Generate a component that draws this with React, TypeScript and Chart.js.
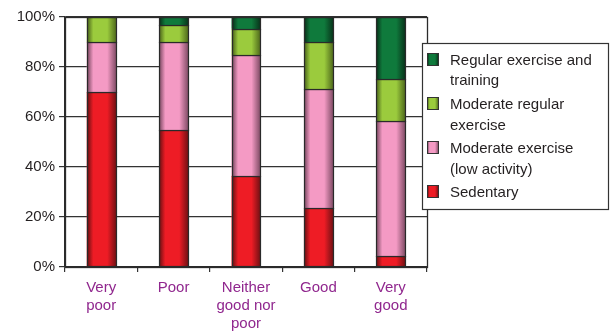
import React, { useEffect, useRef } from "react";
import { Chart, registerables } from "chart.js";

Chart.register(...registerables);

const categories: (string | string[])[] = [
  ["Very", "poor"],
  "Poor",
  ["Neither", "good nor", "poor"],
  "Good",
  ["Very", "good"],
];
const sedentary = [70, 55, 36.5, 23.5, 4.4];
const moderateLow = [20, 35, 48.2, 47.8, 53.9];
const moderateRegular = [10, 7, 10.6, 18.8, 16.9];
const regularTraining = [0, 3, 4.7, 9.9, 24.8];
const yTickStep = 20;
const yMax = 100;

const seriesNames = [
  "Sedentary",
  "Moderate exercise (low activity)",
  "Moderate regular exercise",
  "Regular exercise and training",
];
const legendLines = [
  ["Regular exercise and", "training"],
  ["Moderate regular", "exercise"],
  ["Moderate exercise", "(low activity)"],
  ["Sedentary"],
];

const palette = [
  { bright: "#EE1C25", dark: "#6e1013" },
  { bright: "#F49AC4", dark: "#7d4a63" },
  { bright: "#9BCB3D", dark: "#4d671b" },
  { bright: "#0F7A3C", dark: "#08321a" },
];
const legendPalette = [palette[3], palette[2], palette[1], palette[0]];

const FONT = "'Liberation Sans', Arial, Helvetica, sans-serif";
const BAR_PCT = 0.4;

function shade(ctx: CanvasRenderingContext2D, x0: number, x1: number, p: { bright: string; dark: string }) {
  const g = ctx.createLinearGradient(x0, 0, x1, 0);
  g.addColorStop(0, p.dark);
  g.addColorStop(0.2, p.bright);
  g.addColorStop(0.68, p.bright);
  g.addColorStop(1, p.dark);
  return g;
}

const barShading = {
  id: "barShading",
  afterDatasetsDraw(chart: any) {
    const ctx: CanvasRenderingContext2D = chart.ctx;
    ctx.save();
    chart.data.datasets.forEach((_: any, di: number) => {
      const meta = chart.getDatasetMeta(di);
      meta.data.forEach((el: any) => {
        const { x, y, base, width } = el.getProps(["x", "y", "base", "width"], true);
        const top = Math.min(y, base);
        const h = Math.abs(base - y);
        if (h < 0.5) return;
        const l = Math.round(x - width / 2) + 0.5;
        const r = Math.round(x + width / 2) + 0.5;
        const t = Math.round(top) + 0.5;
        const b = Math.round(top + h) + 0.5;
        ctx.fillStyle = shade(ctx, l, r, palette[di]);
        ctx.fillRect(l, t, r - l, b - t);
        ctx.strokeStyle = "#2a2a2a";
        ctx.lineWidth = 1.2;
        ctx.strokeRect(l, t, r - l, b - t);
      });
    });
    ctx.restore();
  },
};

const frameAndLegend = {
  id: "frameAndLegend",
  afterDatasetsDraw(chart: any) {
    const { ctx, chartArea } = chart;
    ctx.save();
    ctx.strokeStyle = "#2b2b2b";
    ctx.lineWidth = 1.3;
    ctx.strokeRect(
      Math.round(chartArea.left) + 0.5,
      Math.round(chartArea.top) + 0.5,
      Math.round(chartArea.right - chartArea.left),
      Math.round(chartArea.bottom - chartArea.top)
    );
    ctx.restore();
  },
  afterDraw(chart: any) {
    const { ctx } = chart;
    ctx.save();
    const bx = 422.5, by = 43.5, bw = 186, bh = 166;
    ctx.fillStyle = "#ffffff";
    ctx.fillRect(bx, by, bw, bh);
    ctx.strokeStyle = "#333333";
    ctx.lineWidth = 1.2;
    ctx.strokeRect(bx, by, bw, bh);
    ctx.font = `15px ${FONT}`;
    ctx.textBaseline = "alphabetic";
    ctx.textAlign = "left";
    legendLines.forEach((lines, i) => {
      const base = 65 + 44.1 * i;
      const sx = 427.5, sw = 11, sh = 12, sy = Math.round(base - 12.5) + 0.5;
      const p = legendPalette[i];
      ctx.fillStyle = shade(ctx, sx, sx + sw, p);
      ctx.fillRect(sx, sy, sw, sh);
      ctx.strokeStyle = "#333";
      ctx.lineWidth = 1;
      ctx.strokeRect(sx, sy, sw, sh);
      ctx.fillStyle = "#231F20";
      lines.forEach((t, j) => {
        ctx.fillText(t, 450, base + j * 20.4);
      });
    });
    ctx.restore();
  },
};

export default function App() {
  const ref = useRef<HTMLCanvasElement | null>(null);

  useEffect(() => {
    if (!ref.current) return;
    const seriesData = [sedentary, moderateLow, moderateRegular, regularTraining];
    const chart = new Chart(ref.current, {
      type: "bar",
      data: {
        labels: categories as any,
        datasets: seriesData.map((d, i) => ({
          label: seriesNames[i],
          data: d,
          backgroundColor: palette[i].bright,
          borderColor: "#2a2a2a",
          borderWidth: 0,
          categoryPercentage: 1,
          barPercentage: BAR_PCT,
        })),
      },
      options: {
        animation: false,
        responsive: false,
        maintainAspectRatio: false,
        devicePixelRatio: 1,
        layout: { padding: { top: 17, right: 184, left: 0, bottom: 0 } },
        plugins: {
          legend: { display: false },
          tooltip: { enabled: false },
        },
        scales: {
          x: {
            stacked: true,
            afterFit: (s: any) => {
              s.height = 68;
            },
            grid: {
              display: true,
              offset: true,
              drawOnChartArea: false,
              drawTicks: true,
              tickLength: 5,
              color: "#333",
              lineWidth: 1.2,
            },
            border: { display: true, color: "#2b2b2b", width: 1.3 },
            ticks: {
              color: "#90278E",
              font: { family: FONT, size: 15, lineHeight: 1.2 },
              padding: 7,
              maxRotation: 0,
              autoSkip: false,
            },
          },
          y: {
            stacked: true,
            min: 0,
            max: yMax,
            afterFit: (s: any) => {
              s.width = 65;
            },
            grid: {
              color: "#333",
              lineWidth: 1.2,
              tickLength: 6,
            },
            border: { display: true, color: "#2b2b2b", width: 1.3 },
            ticks: {
              stepSize: yTickStep,
              color: "#231F20",
              padding: 4,
              font: { family: FONT, size: 15 },
              callback: (v: any) => `${v}%`,
            },
          },
        },
      },
      plugins: [barShading, frameAndLegend],
    });
    return () => chart.destroy();
  }, []);

  return (
    <div style={{ position: "fixed", left: 0, top: 0, width: 611, height: 335, background: "#fff" }}>
      <canvas ref={ref} width={611} height={335} style={{ width: 611, height: 335, display: "block" }} />
    </div>
  );
}
